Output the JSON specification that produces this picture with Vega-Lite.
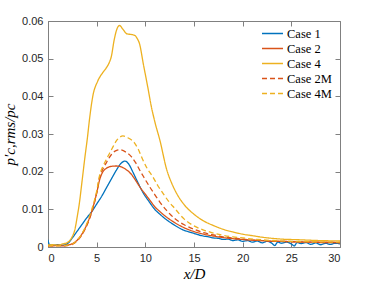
{
  "$schema": "https://vega.github.io/schema/vega-lite/v6.json",
  "autosize": {"type": "none"},
  "padding": {"left": 48, "top": 21, "right": 36, "bottom": 35},
  "width": 292,
  "height": 226,
  "background": "white",
  "config": {
    "view": {"stroke": "#808080", "strokeWidth": 1},
    "axis": {
      "grid": false,
      "domainColor": "#808080",
      "tickColor": "#808080",
      "labelFont": "Liberation Sans",
      "labelFontSize": 11,
      "labelColor": "#262626",
      "titleFont": "Liberation Serif",
      "titleFontStyle": "italic",
      "titleFontWeight": "normal",
      "titleFontSize": 15,
      "titleColor": "#000000"
    },
    "legend": {
      "orient": "none",
      "legendX": 213,
      "legendY": 5,
      "symbolType": "stroke",
      "symbolSize": 440,
      "symbolStrokeWidth": 1.5,
      "labelFont": "Liberation Serif",
      "labelFontSize": 12.5,
      "labelColor": "#000000",
      "labelOffset": 3,
      "rowPadding": 0,
      "clipHeight": 15,
      "padding": 0
    }
  },
  "datasets": {
    "curves": [
      {"c":"Case 1","x":0,"y":0.0019},{"c":"Case 1","x":0.15,"y":0.0006},{"c":"Case 1","x":0.5,"y":0.0005},{"c":"Case 1","x":1,"y":0.0006},{"c":"Case 1","x":1.5,"y":0.0005},{"c":"Case 1","x":2,"y":0.0009},{"c":"Case 1","x":2.5,"y":0.0024},{"c":"Case 1","x":3,"y":0.0042},{"c":"Case 1","x":3.5,"y":0.006},{"c":"Case 1","x":4,"y":0.0078},{"c":"Case 1","x":4.5,"y":0.0094},{"c":"Case 1","x":5,"y":0.0114},{"c":"Case 1","x":5.5,"y":0.0134},{"c":"Case 1","x":6,"y":0.0157},{"c":"Case 1","x":6.5,"y":0.018},{"c":"Case 1","x":7,"y":0.0203},{"c":"Case 1","x":7.5,"y":0.0222},{"c":"Case 1","x":7.9,"y":0.0228},{"c":"Case 1","x":8.3,"y":0.022},{"c":"Case 1","x":8.7,"y":0.02},{"c":"Case 1","x":9.2,"y":0.0173},{"c":"Case 1","x":9.75,"y":0.0145},{"c":"Case 1","x":10.4,"y":0.012},{"c":"Case 1","x":11,"y":0.0099},{"c":"Case 1","x":11.5,"y":0.0087},{"c":"Case 1","x":12,"y":0.0076},{"c":"Case 1","x":13,"y":0.0058},{"c":"Case 1","x":14,"y":0.0044},{"c":"Case 1","x":14.5,"y":0.004},{"c":"Case 1","x":15,"y":0.0036},{"c":"Case 1","x":15.5,"y":0.0032},{"c":"Case 1","x":16,"y":0.0029},{"c":"Case 1","x":16.5,"y":0.0027},{"c":"Case 1","x":17,"y":0.0024},{"c":"Case 1","x":17.5,"y":0.0023},{"c":"Case 1","x":18,"y":0.002},{"c":"Case 1","x":18.5,"y":0.0021},{"c":"Case 1","x":19,"y":0.0017},{"c":"Case 1","x":19.5,"y":0.0019},{"c":"Case 1","x":20,"y":0.0015},{"c":"Case 1","x":20.5,"y":0.0017},{"c":"Case 1","x":21,"y":0.0013},{"c":"Case 1","x":21.5,"y":0.0016},{"c":"Case 1","x":22,"y":0.0011},{"c":"Case 1","x":22.5,"y":0.0015},{"c":"Case 1","x":23,"y":0.001},{"c":"Case 1","x":23.3,"y":0.0004},{"c":"Case 1","x":23.6,"y":0.0013},{"c":"Case 1","x":24,"y":0.001},{"c":"Case 1","x":24.5,"y":0.0013},{"c":"Case 1","x":25,"y":0.0008},{"c":"Case 1","x":25.3,"y":0.0003},{"c":"Case 1","x":25.6,"y":0.0012},{"c":"Case 1","x":26,"y":0.0009},{"c":"Case 1","x":26.5,"y":0.0012},{"c":"Case 1","x":27,"y":0.0007},{"c":"Case 1","x":27.5,"y":0.0011},{"c":"Case 1","x":28,"y":0.0006},{"c":"Case 1","x":28.5,"y":0.001},{"c":"Case 1","x":29,"y":0.0007},{"c":"Case 1","x":29.5,"y":0.001},{"c":"Case 1","x":30,"y":0.0008},

      {"c":"Case 2","x":0,"y":0.0004},{"c":"Case 2","x":0.5,"y":0.0003},{"c":"Case 2","x":1,"y":0.0004},{"c":"Case 2","x":1.5,"y":0.0003},{"c":"Case 2","x":2,"y":0.0005},{"c":"Case 2","x":2.5,"y":0.0009},{"c":"Case 2","x":3,"y":0.0018},{"c":"Case 2","x":3.5,"y":0.0035},{"c":"Case 2","x":4,"y":0.006},{"c":"Case 2","x":4.5,"y":0.0095},{"c":"Case 2","x":5,"y":0.0143},{"c":"Case 2","x":5.3,"y":0.0178},{"c":"Case 2","x":5.6,"y":0.0198},{"c":"Case 2","x":6,"y":0.0209},{"c":"Case 2","x":6.5,"y":0.0214},{"c":"Case 2","x":7,"y":0.0215},{"c":"Case 2","x":7.5,"y":0.0213},{"c":"Case 2","x":8,"y":0.0206},{"c":"Case 2","x":8.5,"y":0.0195},{"c":"Case 2","x":9,"y":0.0177},{"c":"Case 2","x":9.5,"y":0.0157},{"c":"Case 2","x":10,"y":0.014},{"c":"Case 2","x":10.5,"y":0.0123},{"c":"Case 2","x":11,"y":0.0106},{"c":"Case 2","x":11.5,"y":0.0094},{"c":"Case 2","x":12,"y":0.0083},{"c":"Case 2","x":13,"y":0.0065},{"c":"Case 2","x":14,"y":0.0051},{"c":"Case 2","x":15,"y":0.0041},{"c":"Case 2","x":16,"y":0.0034},{"c":"Case 2","x":17,"y":0.0029},{"c":"Case 2","x":18,"y":0.0025},{"c":"Case 2","x":19,"y":0.0022},{"c":"Case 2","x":20,"y":0.002},{"c":"Case 2","x":21,"y":0.0018},{"c":"Case 2","x":22,"y":0.0017},{"c":"Case 2","x":23,"y":0.0015},{"c":"Case 2","x":24,"y":0.0015},{"c":"Case 2","x":25,"y":0.0014},{"c":"Case 2","x":26,"y":0.0013},{"c":"Case 2","x":27,"y":0.0013},{"c":"Case 2","x":28,"y":0.0012},{"c":"Case 2","x":29,"y":0.0012},{"c":"Case 2","x":30,"y":0.0011},

      {"c":"Case 4","x":0,"y":0.0005},{"c":"Case 4","x":0.5,"y":0.0006},{"c":"Case 4","x":1,"y":0.0005},{"c":"Case 4","x":1.5,"y":0.0008},{"c":"Case 4","x":2,"y":0.0012},{"c":"Case 4","x":2.2,"y":0.0016},{"c":"Case 4","x":2.5,"y":0.0028},{"c":"Case 4","x":2.75,"y":0.0045},{"c":"Case 4","x":3,"y":0.008},{"c":"Case 4","x":3.2,"y":0.0112},{"c":"Case 4","x":3.5,"y":0.0175},{"c":"Case 4","x":3.8,"y":0.024},{"c":"Case 4","x":4.05,"y":0.029},{"c":"Case 4","x":4.25,"y":0.0336},{"c":"Case 4","x":4.6,"y":0.04},{"c":"Case 4","x":5.1,"y":0.044},{"c":"Case 4","x":5.6,"y":0.0462},{"c":"Case 4","x":6,"y":0.0476},{"c":"Case 4","x":6.3,"y":0.049},{"c":"Case 4","x":6.5,"y":0.0505},{"c":"Case 4","x":6.8,"y":0.055},{"c":"Case 4","x":7.1,"y":0.058},{"c":"Case 4","x":7.35,"y":0.0588},{"c":"Case 4","x":7.7,"y":0.0578},{"c":"Case 4","x":8.1,"y":0.0566},{"c":"Case 4","x":8.6,"y":0.0564},{"c":"Case 4","x":8.9,"y":0.0562},{"c":"Case 4","x":9.2,"y":0.0552},{"c":"Case 4","x":9.4,"y":0.054},{"c":"Case 4","x":9.8,"y":0.0485},{"c":"Case 4","x":10.24,"y":0.0426},{"c":"Case 4","x":10.6,"y":0.0375},{"c":"Case 4","x":11,"y":0.033},{"c":"Case 4","x":11.5,"y":0.0283},{"c":"Case 4","x":12.2,"y":0.0205},{"c":"Case 4","x":12.7,"y":0.017},{"c":"Case 4","x":13.2,"y":0.0143},{"c":"Case 4","x":14,"y":0.0112},{"c":"Case 4","x":15,"y":0.0087},{"c":"Case 4","x":16,"y":0.0069},{"c":"Case 4","x":17,"y":0.0057},{"c":"Case 4","x":18,"y":0.0047},{"c":"Case 4","x":19,"y":0.004},{"c":"Case 4","x":20,"y":0.0034},{"c":"Case 4","x":21,"y":0.003},{"c":"Case 4","x":22,"y":0.0026},{"c":"Case 4","x":24,"y":0.0021},{"c":"Case 4","x":26,"y":0.0019},{"c":"Case 4","x":28,"y":0.0017},{"c":"Case 4","x":30,"y":0.0016},

      {"c":"Case 2M","x":0,"y":0.0003},{"c":"Case 2M","x":0.5,"y":0.0003},{"c":"Case 2M","x":1,"y":0.0004},{"c":"Case 2M","x":1.5,"y":0.0003},{"c":"Case 2M","x":2,"y":0.0004},{"c":"Case 2M","x":2.5,"y":0.0007},{"c":"Case 2M","x":3,"y":0.0016},{"c":"Case 2M","x":3.5,"y":0.0033},{"c":"Case 2M","x":4,"y":0.0058},{"c":"Case 2M","x":4.5,"y":0.0093},{"c":"Case 2M","x":5,"y":0.0143},{"c":"Case 2M","x":5.3,"y":0.0185},{"c":"Case 2M","x":5.6,"y":0.0205},{"c":"Case 2M","x":6,"y":0.0224},{"c":"Case 2M","x":6.5,"y":0.0245},{"c":"Case 2M","x":7,"y":0.0256},{"c":"Case 2M","x":7.4,"y":0.0258},{"c":"Case 2M","x":8,"y":0.0252},{"c":"Case 2M","x":8.56,"y":0.024},{"c":"Case 2M","x":9,"y":0.0224},{"c":"Case 2M","x":9.4,"y":0.0205},{"c":"Case 2M","x":9.9,"y":0.0183},{"c":"Case 2M","x":10.44,"y":0.016},{"c":"Case 2M","x":11,"y":0.0138},{"c":"Case 2M","x":11.47,"y":0.012},{"c":"Case 2M","x":12.16,"y":0.0098},{"c":"Case 2M","x":13,"y":0.0076},{"c":"Case 2M","x":14,"y":0.0059},{"c":"Case 2M","x":15,"y":0.0047},{"c":"Case 2M","x":16,"y":0.0038},{"c":"Case 2M","x":17,"y":0.0032},{"c":"Case 2M","x":18,"y":0.0027},{"c":"Case 2M","x":19,"y":0.0024},{"c":"Case 2M","x":20,"y":0.0021},{"c":"Case 2M","x":22,"y":0.0017},{"c":"Case 2M","x":25,"y":0.0014},{"c":"Case 2M","x":27,"y":0.0013},{"c":"Case 2M","x":30,"y":0.0012},

      {"c":"Case 4M","x":0,"y":0.0003},{"c":"Case 4M","x":0.5,"y":0.0004},{"c":"Case 4M","x":1,"y":0.0003},{"c":"Case 4M","x":1.5,"y":0.0004},{"c":"Case 4M","x":2,"y":0.0005},{"c":"Case 4M","x":2.5,"y":0.0008},{"c":"Case 4M","x":3,"y":0.0018},{"c":"Case 4M","x":3.5,"y":0.0036},{"c":"Case 4M","x":4,"y":0.0063},{"c":"Case 4M","x":4.5,"y":0.01},{"c":"Case 4M","x":5,"y":0.0148},{"c":"Case 4M","x":5.3,"y":0.019},{"c":"Case 4M","x":5.64,"y":0.0214},{"c":"Case 4M","x":6,"y":0.0233},{"c":"Case 4M","x":6.33,"y":0.0249},{"c":"Case 4M","x":6.7,"y":0.0267},{"c":"Case 4M","x":7,"y":0.0281},{"c":"Case 4M","x":7.4,"y":0.0292},{"c":"Case 4M","x":7.7,"y":0.0295},{"c":"Case 4M","x":8.2,"y":0.029},{"c":"Case 4M","x":8.9,"y":0.0276},{"c":"Case 4M","x":9.3,"y":0.0258},{"c":"Case 4M","x":9.75,"y":0.0231},{"c":"Case 4M","x":10.2,"y":0.0208},{"c":"Case 4M","x":10.78,"y":0.0186},{"c":"Case 4M","x":11.3,"y":0.0162},{"c":"Case 4M","x":11.8,"y":0.0143},{"c":"Case 4M","x":12.4,"y":0.0121},{"c":"Case 4M","x":13,"y":0.0103},{"c":"Case 4M","x":14,"y":0.0074},{"c":"Case 4M","x":15,"y":0.0056},{"c":"Case 4M","x":16,"y":0.0045},{"c":"Case 4M","x":17,"y":0.0037},{"c":"Case 4M","x":18,"y":0.0031},{"c":"Case 4M","x":19,"y":0.0027},{"c":"Case 4M","x":20,"y":0.0024},{"c":"Case 4M","x":22,"y":0.0019},{"c":"Case 4M","x":25,"y":0.0015},{"c":"Case 4M","x":27,"y":0.0014},{"c":"Case 4M","x":30,"y":0.0013}
    ]
  },
  "data": {"name": "curves"},
  "resolve": {"axis": {"x": "independent", "y": "independent"}},
  "layer": [
    {
      "mark": {"type": "line", "interpolate": "monotone", "strokeWidth": 1.3, "clip": true},
      "encoding": {
        "x": {
          "field": "x", "type": "quantitative",
          "scale": {"domain": [0, 30], "nice": false, "zero": false},
          "axis": {"values": [0, 5, 10, 15, 20, 25, 30], "title": "x/D", "tickSize": -5, "labelPadding": 10, "titlePadding": 3}
        },
        "y": {
          "field": "y", "type": "quantitative",
          "scale": {"domain": [0, 0.06], "nice": false},
          "axis": {"values": [0, 0.01, 0.02, 0.03, 0.04, 0.05, 0.06], "format": "~g", "title": "p′c,rms/pc", "tickSize": -5, "labelPadding": 10, "titlePadding": 4}
        },
        "color": {
          "field": "c", "type": "nominal", "title": null,
          "sort": ["Case 1", "Case 2", "Case 4", "Case 2M", "Case 4M"],
          "scale": {"domain": ["Case 1", "Case 2", "Case 4", "Case 2M", "Case 4M"], "range": ["#0072BD", "#D95319", "#EDB120", "#D95319", "#EDB120"]}
        },
        "strokeDash": {
          "field": "c", "type": "nominal", "title": null,
          "sort": ["Case 1", "Case 2", "Case 4", "Case 2M", "Case 4M"],
          "scale": {"domain": ["Case 1", "Case 2", "Case 4", "Case 2M", "Case 4M"], "range": [[1, 0], [1, 0], [1, 0], [5, 3], [5, 3]]}
        },
        "order": {"field": "x", "type": "quantitative"}
      }
    },
    {
      "mark": {"type": "line", "opacity": 0},
      "encoding": {
        "x": {
          "field": "x", "type": "quantitative",
          "axis": {"orient": "top", "values": [0, 5, 10, 15, 20, 25, 30], "labels": false, "title": null, "domain": false, "tickSize": -5}
        },
        "y": {
          "field": "y", "type": "quantitative",
          "axis": {"orient": "right", "values": [0, 0.01, 0.02, 0.03, 0.04, 0.05, 0.06], "labels": false, "title": null, "domain": false, "tickSize": -5}
        },
        "detail": {"field": "c"}
      }
    }
  ]
}
